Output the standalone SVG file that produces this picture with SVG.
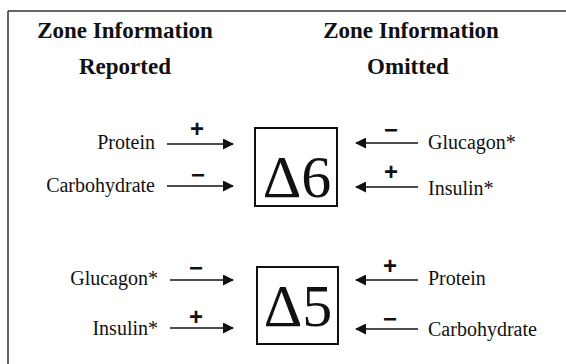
<svg xmlns="http://www.w3.org/2000/svg" width="566" height="364" viewBox="0 0 566 364">
<style>
.h{font-family:"Liberation Serif",serif;font-weight:bold;font-size:23px;fill:#111;text-anchor:middle}
.t{font-family:"Liberation Serif",serif;font-size:20px;fill:#111}
.s{font-family:"Liberation Sans",sans-serif;font-weight:bold;font-size:24px;fill:#111;text-anchor:middle}
.big{font-family:"Liberation Serif",serif;font-size:60px;fill:#111;text-anchor:middle}
.box{fill:none;stroke:#111;stroke-width:2}
.c{stroke:#111;stroke-width:1.5;fill:none;marker-end:url(#ah)}
</style>
<defs>
<marker id="ah" markerWidth="11" markerHeight="11" refX="10" refY="5.5" orient="auto" markerUnits="userSpaceOnUse">
<path d="M0,0 L11,5.5 L0,11 Z" fill="#111"/>
</marker>
</defs>
<rect width="566" height="364" fill="#fff"/>
<g id="frame">
<line x1="8" y1="11" x2="566" y2="11" stroke="#333" stroke-width="1.5"/>
<line x1="8" y1="11" x2="8" y2="364" stroke="#333" stroke-width="1.5"/>
</g>
<g id="heading-left">
<text class="h" x="125" y="38">Zone Information</text>
<text class="h" x="125" y="74">Reported</text>
</g>
<g id="heading-right">
<text class="h" x="411" y="38">Zone Information</text>
<text class="h" x="408" y="74">Omitted</text>
</g>
<g id="d6">
<rect class="box" x="255" y="128" width="82" height="78"/>
<text class="big" x="297" y="197">Δ6</text>
</g>
<g id="d5">
<rect class="box" x="257" y="267" width="81" height="77"/>
<text class="big" x="298" y="326">Δ5</text>
</g>
<g id="n-protein-1"><text class="t" x="155" y="149" text-anchor="end">Protein</text></g>
<g id="n-carb-1"><text class="t" x="155" y="192" text-anchor="end">Carbohydrate</text></g>
<g id="n-glucagon-1"><text class="t" x="428" y="149">Glucagon*</text></g>
<g id="n-insulin-1"><text class="t" x="428" y="195">Insulin*</text></g>
<g id="n-glucagon-2"><text class="t" x="158" y="285" text-anchor="end">Glucagon*</text></g>
<g id="n-insulin-2"><text class="t" x="158" y="335" text-anchor="end">Insulin*</text></g>
<g id="n-protein-2"><text class="t" x="428" y="285">Protein</text></g>
<g id="n-carb-2"><text class="t" x="428" y="336">Carbohydrate</text></g>
<g id="connectors">
<line class="c" x1="167" y1="144" x2="233" y2="144"/>
<line class="c" x1="167" y1="186" x2="233" y2="186"/>
<line class="c" x1="418" y1="143" x2="356" y2="143"/>
<line class="c" x1="418" y1="187" x2="356" y2="187"/>
<line class="c" x1="170" y1="280" x2="233" y2="280"/>
<line class="c" x1="170" y1="328" x2="233" y2="328"/>
<line class="c" x1="418" y1="280" x2="356" y2="280"/>
<line class="c" x1="418" y1="329" x2="356" y2="329"/>
<text class="s" x="197" y="137">+</text>
<text class="s" x="198" y="183">−</text>
<text class="s" x="391" y="138">−</text>
<text class="s" x="391" y="180">+</text>
<text class="s" x="196" y="276">−</text>
<text class="s" x="196" y="325">+</text>
<text class="s" x="390" y="274">+</text>
<text class="s" x="390" y="327">−</text>
</g>
</svg>
